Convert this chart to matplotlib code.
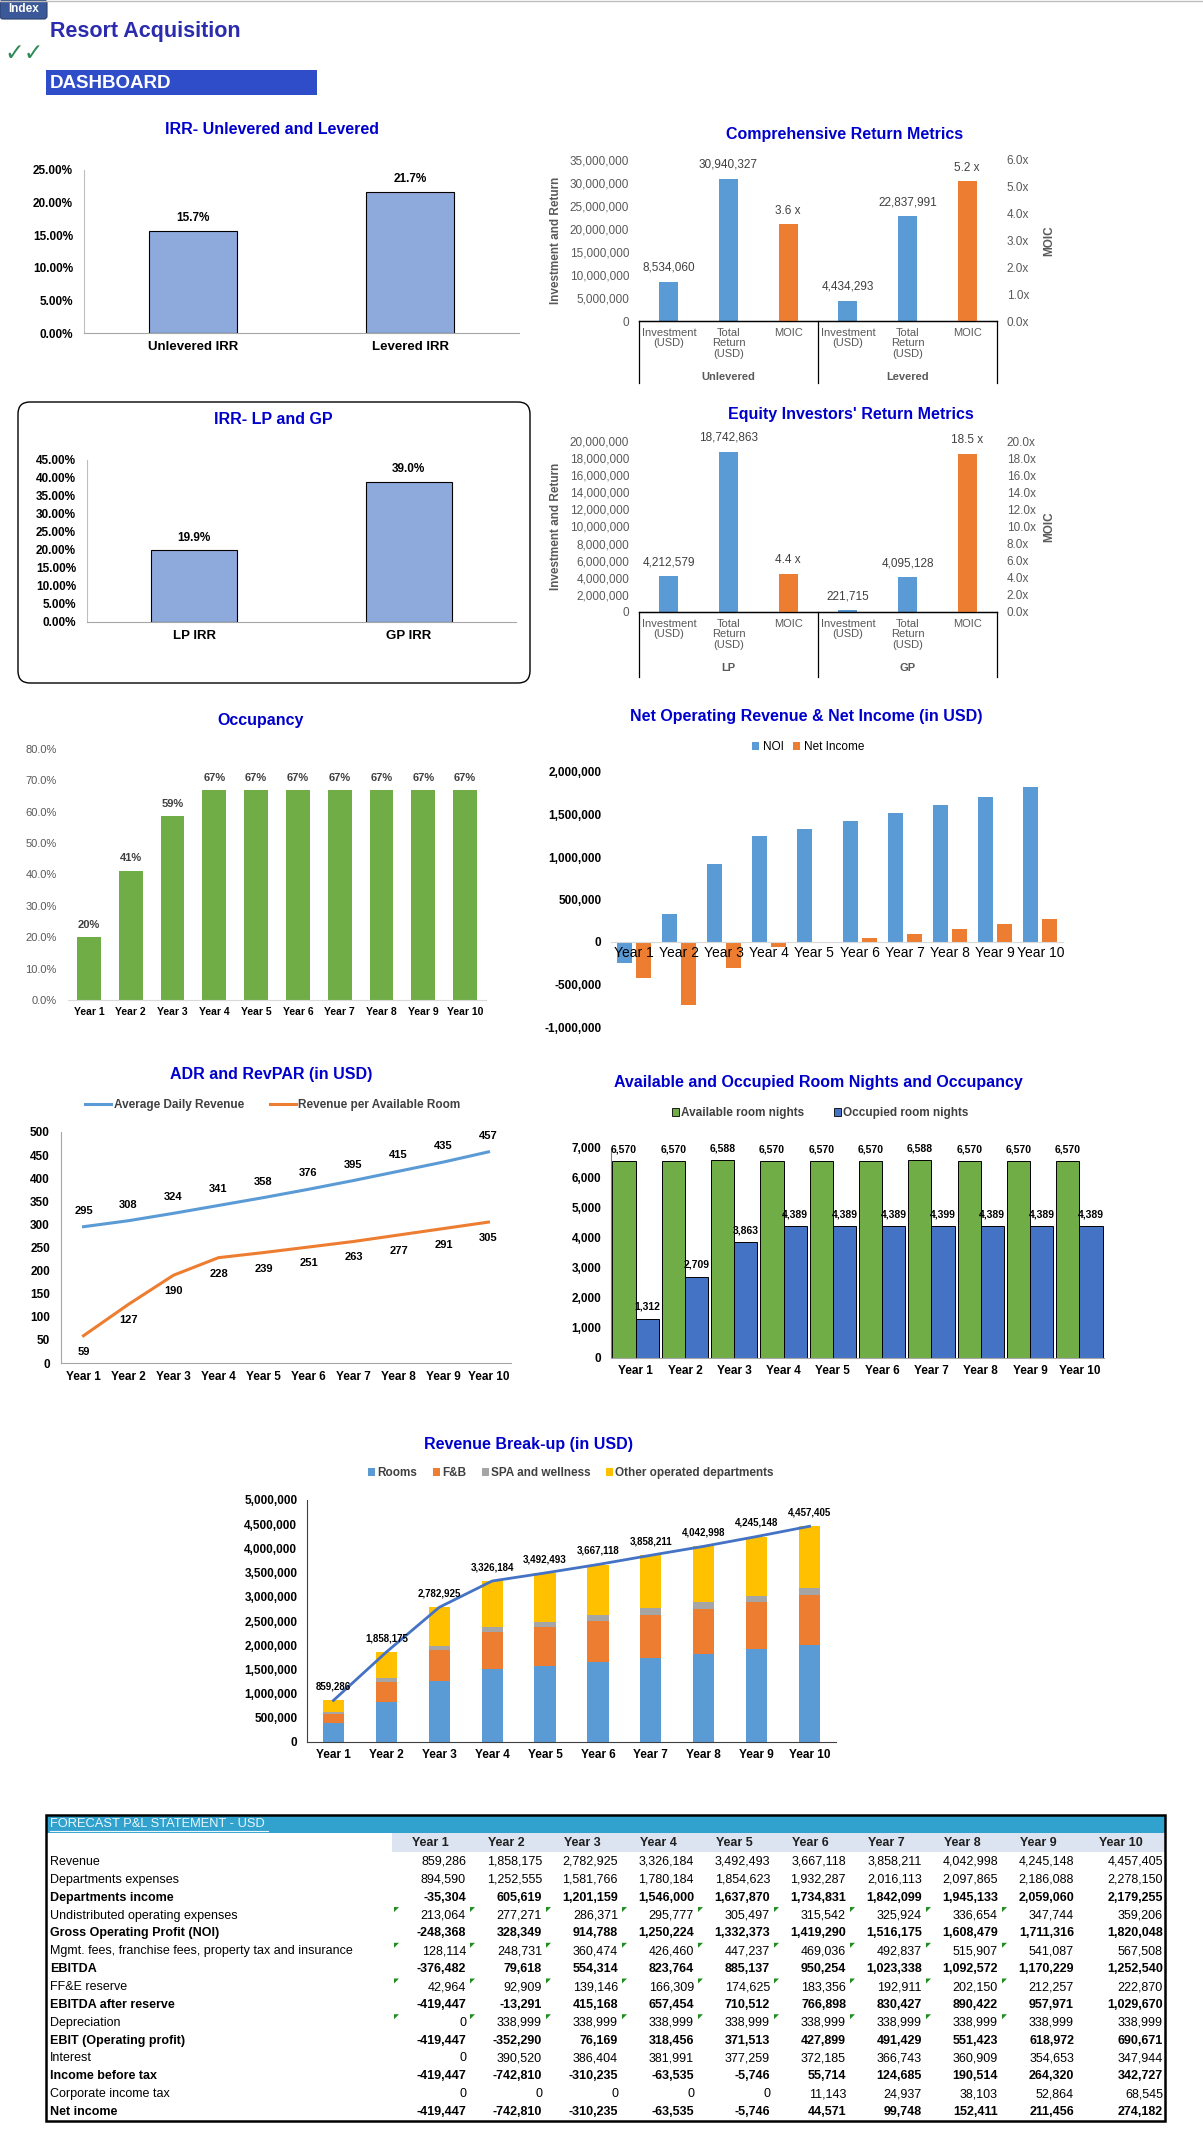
import matplotlib
matplotlib.use("Agg")
import matplotlib.pyplot as plt
from matplotlib.patches import Rectangle, FancyBboxPatch, Polygon, Patch

W, H = 1203, 2153

# ---------------- data ----------------
years = ["Year 1", "Year 2", "Year 3", "Year 4", "Year 5",
         "Year 6", "Year 7", "Year 8", "Year 9", "Year 10"]

irr_labels = ["Unlevered IRR", "Levered IRR"]
irr_values = [15.7, 21.7]
lp_gp_labels = ["LP IRR", "GP IRR"]
lp_gp_values = [19.9, 39.0]

metric_labels = ["Investment\n(USD)", "Total\nReturn\n(USD)", "MOIC"]
comp_groups = ["Unlevered", "Levered"]
comp_usd = [8534060, 30940327, 4434293, 22837991]
comp_moic = [3.6, 5.2]
eq_groups = ["LP", "GP"]
eq_usd = [4212579, 18742863, 221715, 4095128]
eq_moic = [4.4, 18.5]

occupancy = [20.0, 41.2, 58.6, 66.8, 66.8, 66.8, 66.8, 66.8, 66.8, 66.8]
adr = [295, 308, 324, 341, 358, 376, 395, 415, 435, 457]
revpar = [59, 127, 190, 228, 239, 251, 263, 277, 291, 305]
avail_nights = [6570, 6570, 6588, 6570, 6570, 6570, 6588, 6570, 6570, 6570]
occupied_nights = [1312, 2709, 3863, 4389, 4389, 4389, 4399, 4389, 4389, 4389]

rev_rooms = [387600, 834400, 1251700, 1498000, 1570200, 1649100, 1732600, 1819900, 1911900, 2003900]
rev_fb = [198000, 413000, 645000, 771000, 796000, 842000, 890000, 924000, 973000, 1028000]
rev_spa = [35000, 65000, 85000, 100000, 120000, 125000, 140000, 145000, 140000, 150000]
rev_other = [238700, 545800, 801200, 957200, 1006300, 1051000, 1095600, 1154100, 1220200, 1275500]

# P&L statement
revenue = [859286, 1858175, 2782925, 3326184, 3492493, 3667118, 3858211, 4042998, 4245148, 4457405]
dept_expenses = [894590, 1252555, 1581766, 1780184, 1854623, 1932287, 2016113, 2097865, 2186088, 2278150]
dept_income = [-35304, 605619, 1201159, 1546000, 1637870, 1734831, 1842099, 1945133, 2059060, 2179255]
undistributed = [213064, 277271, 286371, 295777, 305497, 315542, 325924, 336654, 347744, 359206]
gop = [-248368, 328349, 914788, 1250224, 1332373, 1419290, 1516175, 1608479, 1711316, 1820048]
mgmt_fees = [128114, 248731, 360474, 426460, 447237, 469036, 492837, 515907, 541087, 567508]
ebitda = [-376482, 79618, 554314, 823764, 885137, 950254, 1023338, 1092572, 1170229, 1252540]
ffe_reserve = [42964, 92909, 139146, 166309, 174625, 183356, 192911, 202150, 212257, 222870]
ebitda_after = [-419447, -13291, 415168, 657454, 710512, 766898, 830427, 890422, 957971, 1029670]
depreciation = [0, 338999, 338999, 338999, 338999, 338999, 338999, 338999, 338999, 338999]
ebit = [-419447, -352290, 76169, 318456, 371513, 427899, 491429, 551423, 618972, 690671]
interest = [0, 390520, 386404, 381991, 377259, 372185, 366743, 360909, 354653, 347944]
income_before_tax = [-419447, -742810, -310235, -63535, -5746, 55714, 124685, 190514, 264320, 342727]
corp_tax = [0, 0, 0, 0, 0, 11143, 24937, 38103, 52864, 68545]
net_income = [-419447, -742810, -310235, -63535, -5746, 44571, 99748, 152411, 211456, 274182]

pl_labels = ["Revenue", "Departments expenses", "Departments income",
             "Undistributed operating expenses", "Gross Operating Profit (NOI)",
             "Mgmt. fees, franchise fees, property tax and insurance", "EBITDA",
             "FF&E reserve", "EBITDA after reserve", "Depreciation",
             "EBIT (Operating profit)", "Interest", "Income before tax",
             "Corporate income tax", "Net income"]
pl_bold = [False, False, True, False, True, False, True, False, True, False,
           True, False, True, False, True]
pl_flag = [False, False, False, True, False, True, False, True, False, True,
           False, False, False, False, False]

# ---------------- style ----------------
plt.rcParams['font.family'] = ['Liberation Sans', 'DejaVu Sans']
TITLE_C = '#0000CC'
GRAY = '#595959'
C_BLUE = '#5B9BD5'
C_ORANGE = '#ED7D31'
C_IRR = '#8EA9DB'


def rect(x0, y0, x1, y1):
    return [x0 / W, 1 - y1 / H, (x1 - x0) / W, (y1 - y0) / H]


def frame(ax, left=None, bottom='#BFBFBF'):
    for s in ('top', 'right'):
        ax.spines[s].set_visible(False)
    if left:
        ax.spines['left'].set_color(left)
        ax.spines['left'].set_linewidth(0.8)
    else:
        ax.spines['left'].set_visible(False)
    ax.spines['bottom'].set_color(bottom)
    ax.spines['bottom'].set_linewidth(0.8)
    ax.tick_params(length=0)


def money(v):
    return f"{v:,.0f}"


fig = plt.figure(figsize=(W / 100, H / 100), dpi=100)
ov = fig.add_axes([0, 0, 1, 1], zorder=-5)
ov.set_xlim(0, W)
ov.set_ylim(H, 0)
ov.axis('off')


def title(x, y, s):
    ov.text(x, y, s, ha='center', va='center', fontsize=11.5,
            fontweight='bold', color=TITLE_C)


# header
ov.plot([0, W], [0.5, 0.5], color='#BDBDBD', lw=1)
ov.add_patch(FancyBboxPatch((0, 0), 47, 19, boxstyle='round,pad=0,rounding_size=3',
                            facecolor='#3B5998', edgecolor='#2A4070', lw=0.8))
ov.text(23.5, 9.5, "Index", ha='center', va='center', color='white',
        fontsize=8.5, fontweight='bold')
ov.text(50, 32, "Resort Acquisition", ha='left', va='center', fontsize=15.5,
        fontweight='bold', color='#2B2BAE')
ov.text(4, 53, "\u2713\u2713", ha='left', va='center', fontsize=17,
        color='#2E8B57', family='DejaVu Sans', fontweight='bold')
ov.add_patch(Rectangle((46, 70), 271, 25, facecolor='#2F4DC8', edgecolor='none'))
ov.text(50, 83, "DASHBOARD", ha='left', va='center', fontsize=13.5,
        fontweight='bold', color='white')

# ---------------- IRR unlevered / levered ----------------
title(272, 129, "IRR- Unlevered and Levered")
ax = fig.add_axes(rect(84, 170, 519, 333))
bars = ax.bar(irr_labels, irr_values, width=0.405, color=C_IRR,
              edgecolor='black', linewidth=0.8)
ax.set_xlim(-0.5, 1.5)
ax.set_ylim(0, 25)
yt = [0, 5, 10, 15, 20, 25]
ax.set_yticks(yt, [f"{t:.2f}%" for t in yt], fontweight='bold', fontsize=8.5)
ax.set_xticks([0, 1], irr_labels, fontweight='bold', fontsize=9.5)
frame(ax, left='#BFBFBF', bottom='#A6A6A6')
ax.tick_params(axis='y', pad=8)
ax.tick_params(axis='x', pad=6)
for b, v in zip(bars, irr_values):
    ax.annotate(f"{v:.1f}%", (b.get_x() + b.get_width() / 2, v), xytext=(0, 9),
                textcoords='offset points', ha='center', va='center',
                fontsize=8.5, fontweight='bold')


# ---------------- return metric charts ----------------
def metric_chart(box, usd, moic, groups, ymax, ystep, rmax, rstep, gy, gbottom):
    ax = fig.add_axes(rect(*box))
    pos_usd = [0, 1, 3, 4]
    pos_moic = [2, 5]
    b1 = ax.bar(pos_usd, usd, width=0.32, color=C_BLUE)
    ax.set_xlim(-0.5, 5.5)
    ax.set_ylim(0, ymax)
    yt = list(range(0, ymax + 1, ystep))
    ax.set_yticks(yt, [money(t) for t in yt], fontsize=8.5, color=GRAY)
    ax.set_xticks(range(6), metric_labels * 2, fontsize=8, color=GRAY,
                  linespacing=1.05)
    ax.set_ylabel("Investment and Return", fontsize=8.5, fontweight='bold', color=GRAY)
    ax.yaxis.set_label_coords(-0.215, 0.5)
    ax2 = ax.twinx()
    b2 = ax2.bar(pos_moic, moic, width=0.32, color=C_ORANGE)
    ax2.set_ylim(0, rmax)
    rt = list(range(0, rmax + 1, rstep))
    ax2.set_yticks(rt, [f"{t:.1f}x" for t in rt], fontsize=8.5, color=GRAY)
    ax2.set_ylabel("MOIC", fontsize=8.5, fontweight='bold', color=GRAY)
    ax2.yaxis.set_label_coords(1.13, 0.5)
    for a in (ax, ax2):
        for s in ('top', 'right', 'left'):
            a.spines[s].set_visible(False)
        a.spines['bottom'].set_color('black')
        a.spines['bottom'].set_linewidth(0.9)
        a.tick_params(length=0, pad=7)
    ax.tick_params(axis='x', pad=5)
    for b, v in zip(b1, usd):
        ax.annotate(money(v), (b.get_x() + b.get_width() / 2, v), xytext=(0, 10),
                    textcoords='offset points', ha='center', va='center',
                    fontsize=8.5, color='#404040')
    for b, v in zip(b2, moic):
        ax2.annotate(f"{v:.1f} x", (b.get_x() + b.get_width() / 2, v), xytext=(0, 10),
                     textcoords='offset points', ha='center', va='center',
                     fontsize=8.5, color='#404040')
    tr = ax.get_xaxis_transform()
    for xv in (-0.5, 2.5, 5.5):
        ax.plot([xv, xv], [0, gbottom], transform=tr, color='black', lw=0.9,
                clip_on=False)
    for xc, g in zip((1, 4), groups):
        ax.text(xc, gy, g, transform=tr, ha='center', va='center', fontsize=8,
                fontweight='bold', color=GRAY)


title(845, 134, "Comprehensive Return Metrics")
metric_chart((639, 160, 997, 321), comp_usd, comp_moic, comp_groups,
             35000000, 5000000, 6, 1, -0.348, -0.385)

title(851, 415, "Equity Investors' Return Metrics")
metric_chart((639, 441, 997, 612), eq_usd, eq_moic, eq_groups,
             20000000, 2000000, 20, 2, -0.327, -0.38)

# ---------------- IRR LP / GP ----------------
ov.add_patch(FancyBboxPatch((18, 402), 512, 281, boxstyle='round,pad=0,rounding_size=12',
                            facecolor='none', edgecolor='black', lw=1.0))
title(273, 420, "IRR- LP and GP")
ax = fig.add_axes(rect(87, 460, 516, 622))
bars = ax.bar(lp_gp_labels, lp_gp_values, width=0.4, color=C_IRR,
              edgecolor='black', linewidth=0.8)
ax.set_xlim(-0.5, 1.5)
ax.set_ylim(0, 45)
yt = list(range(0, 46, 5))
ax.set_yticks(yt, [f"{t:.2f}%" for t in yt], fontweight='bold', fontsize=8.5)
ax.set_xticks([0, 1], lp_gp_labels, fontweight='bold', fontsize=9.5)
frame(ax, left='#BFBFBF', bottom='#A6A6A6')
ax.tick_params(axis='y', pad=8)
ax.tick_params(axis='x', pad=6)
for b, v in zip(bars, lp_gp_values):
    ax.annotate(f"{v:.1f}%", (b.get_x() + b.get_width() / 2, v), xytext=(0, 9),
                textcoords='offset points', ha='center', va='center',
                fontsize=8.5, fontweight='bold')

# ---------------- Occupancy ----------------
title(261, 720, "Occupancy")
ax = fig.add_axes(rect(68, 749, 486, 1000))
bars = ax.bar(years, occupancy, width=0.57, color='#70AD47')
ax.set_xlim(-0.5, 9.5)
ax.set_ylim(0, 80)
yt = list(range(0, 81, 10))
ax.set_yticks(yt, [f"{t:.1f}%" for t in yt], fontsize=8, color=GRAY)
ax.set_xticks(range(10), years, fontweight='bold', fontsize=7.5)
frame(ax, bottom='#D9D9D9')
ax.tick_params(axis='y', pad=8)
ax.tick_params(axis='x', pad=5)
for b, v in zip(bars, occupancy):
    ax.annotate(f"{v:.0f}%", (b.get_x() + b.get_width() / 2, v), xytext=(0, 9),
                textcoords='offset points', ha='center', va='center',
                fontsize=8, fontweight='bold', color='#404040')

# ---------------- NOI & Net income ----------------
title(806, 716, "Net Operating Revenue & Net Income (in USD)")
ax = fig.add_axes(rect(611, 772, 1063, 1027))
xs = list(range(10))
ax.bar([x - 0.21 for x in xs], gop, width=0.33, color=C_BLUE, label="NOI")
ax.bar([x + 0.21 for x in xs], net_income, width=0.33, color=C_ORANGE, label="Net Income")
ax.set_xlim(-0.5, 9.5)
ax.set_ylim(-1000000, 2000000)
yt = list(range(-1000000, 2000001, 500000))
ax.set_yticks(yt, [money(t) for t in yt], fontweight='bold', fontsize=8.5)
ax.set_xticks(xs, years, fontweight='bold', fontsize=8.5)
frame(ax, bottom='#D9D9D9')
ax.spines['bottom'].set_position(('data', 0))
ax.tick_params(axis='y', pad=7)
ax.tick_params(axis='x', pad=3)
ax.legend(loc='center', bbox_to_anchor=(808 / W, 1 - 747 / H),
          bbox_transform=fig.transFigure, ncol=2, frameon=False, fontsize=8.5,
          handlelength=0.6, handleheight=0.6, handletextpad=0.3, columnspacing=0.8)

# ---------------- ADR and RevPAR ----------------
title(271, 1075, "ADR and RevPAR (in USD)")
ax = fig.add_axes(rect(61, 1132, 511, 1363))
ax.plot(xs, adr, color=C_BLUE, lw=2.2, label="Average Daily Revenue")
ax.plot(xs, revpar, color=C_ORANGE, lw=2.2, label="Revenue per Available Room")
ax.set_xlim(-0.5, 9.5)
ax.set_ylim(0, 500)
yt = list(range(0, 501, 50))
ax.set_yticks(yt, [str(t) for t in yt], fontweight='bold', fontsize=8.5)
ax.set_xticks(xs, years, fontweight='bold', fontsize=8.5)
frame(ax, left='#A6A6A6', bottom='#A6A6A6')
ax.tick_params(axis='y', pad=8)
ax.tick_params(axis='x', pad=6)
for x, v in zip(xs, adr):
    ax.annotate(str(v), (x, v), xytext=(0, 11.5), textcoords='offset points',
                ha='center', va='center', fontsize=8, fontweight='bold')
for x, v in zip(xs, revpar):
    ax.annotate(str(v), (x, v), xytext=(0, -11.5), textcoords='offset points',
                ha='center', va='center', fontsize=8, fontweight='bold')
ax.legend(loc='center', bbox_to_anchor=(273 / W, 1 - 1105 / H),
          bbox_transform=fig.transFigure, ncol=2, frameon=False,
          prop={'size': 8.5, 'weight': 'bold'}, handlelength=2.2,
          handletextpad=0.2, columnspacing=2.2, labelcolor='#404040')

# ---------------- Room nights ----------------
title(818, 1083, "Available and Occupied Room Nights and Occupancy")
ax = fig.add_axes(rect(611, 1148, 1104, 1358))
ba = ax.bar([x - 0.235 for x in xs], avail_nights, width=0.47, color='#70AD47',
            edgecolor='black', linewidth=0.7, label="Available room nights")
bo = ax.bar([x + 0.235 for x in xs], occupied_nights, width=0.47, color='#4472C4',
            edgecolor='black', linewidth=0.7, label="Occupied room nights")
ax.set_xlim(-0.5, 9.5)
ax.set_ylim(0, 7000)
yt = list(range(0, 7001, 1000))
ax.set_yticks(yt, [money(t) for t in yt], fontweight='bold', fontsize=8.5)
ax.set_xticks(xs, years, fontweight='bold', fontsize=8.5)
frame(ax, left='#808080', bottom='#A6A6A6')
ax.tick_params(axis='y', pad=7)
ax.tick_params(axis='x', pad=5)
for grp in (ba, bo):
    for b in grp:
        v = b.get_height()
        ax.annotate(money(v), (b.get_x() + b.get_width() / 2, v), xytext=(0, 8.5),
                    textcoords='offset points', ha='center', va='center',
                    fontsize=7.5, fontweight='bold')
ax.legend(handles=[Patch(facecolor='#70AD47', edgecolor='black', lw=0.6,
                         label="Available room nights"),
                   Patch(facecolor='#4472C4', edgecolor='black', lw=0.6,
                         label="Occupied room nights")],
          loc='center', bbox_to_anchor=(820 / W, 1 - 1113 / H),
          bbox_transform=fig.transFigure, ncol=2, frameon=False,
          prop={'size': 8.5, 'weight': 'bold'}, labelcolor='#404040',
          handlelength=0.6, handleheight=0.6, handletextpad=0.2, columnspacing=2.5)

# ---------------- Revenue break-up ----------------
title(528, 1444, "Revenue Break-up (in USD)")
ax = fig.add_axes(rect(307, 1500, 836, 1742))
bottom = [0] * 10
for vals, col, lab in ((rev_rooms, C_BLUE, "Rooms"), (rev_fb, C_ORANGE, "F&B"),
                       (rev_spa, '#A5A5A5', "SPA and wellness"),
                       (rev_other, '#FFC000', "Other operated departments")):
    ax.bar(xs, vals, width=0.4, bottom=bottom, color=col, label=lab)
    bottom = [a + b for a, b in zip(bottom, vals)]
ax.plot(xs, revenue, color='#4472C4', lw=2)
for x, v in zip(xs, revenue):
    ax.annotate(money(v), (x, v), xytext=(0, 10), textcoords='offset points',
                ha='center', va='center', fontsize=7, fontweight='bold')
ax.set_xlim(-0.5, 9.5)
ax.set_ylim(0, 5000000)
yt = list(range(0, 5000001, 500000))
ax.set_yticks(yt, [money(t) for t in yt], fontweight='bold', fontsize=8.5)
ax.set_xticks(xs, years, fontweight='bold', fontsize=8.5)
frame(ax, left='#404040', bottom='#404040')
ax.tick_params(axis='y', pad=7)
ax.tick_params(axis='x', pad=5)
ax.legend(loc='center', bbox_to_anchor=(571 / W, 1 - 1473 / H),
          bbox_transform=fig.transFigure, ncol=4, frameon=False,
          prop={'size': 8.5, 'weight': 'bold'}, labelcolor='#404040',
          handlelength=0.6, handleheight=0.6, handletextpad=0.2, columnspacing=1.3)

# ---------------- P&L table ----------------
pl_rows = [revenue, dept_expenses, dept_income, undistributed, gop, mgmt_fees,
           ebitda, ffe_reserve, ebitda_after, depreciation, ebit, interest,
           income_before_tax, corp_tax, net_income]
t_left, t_right, t_top, t_bottom = 46, 1165, 1815, 2121
col_edges = [392, 468, 544, 620, 696, 772, 848, 924, 1000, 1076, 1165]
ov.add_patch(Rectangle((t_left, t_top), t_right - t_left, 18, facecolor='#31A2CE',
                       edgecolor='none'))
hdr = ov.text(50, 1824, "FORECAST P&L STATEMENT - USD", ha='left', va='center',
              fontsize=9.3, color='#EAF6FB')
ov.plot([50, 268], [1831, 1831], color='#EAF6FB', lw=0.8)
ov.add_patch(Rectangle((col_edges[0], 1833), t_right - col_edges[0], 19,
                       facecolor='#DCE3F1', edgecolor='none'))
for i, y in enumerate(years):
    ov.text((col_edges[i] + col_edges[i + 1]) / 2, 1842.5, y, ha='center',
            va='center', fontsize=9, fontweight='bold', color='#1F1F1F')
row_y0, row_step = 1862, 17.86
for r, (lab, vals) in enumerate(zip(pl_labels, pl_rows)):
    yc = row_y0 + r * row_step
    w = 'bold' if pl_bold[r] else 'normal'
    ov.text(50, yc, lab, ha='left', va='center', fontsize=9, fontweight=w, color='black')
    for i, v in enumerate(vals):
        ov.text(col_edges[i + 1] - 2, yc, money(v), ha='right', va='center',
                fontsize=9, fontweight=w, color='black')
        if pl_flag[r] and i < 9:
            xl, yt0 = col_edges[i] + 2, yc - 8.5
            ov.add_patch(Polygon([(xl, yt0), (xl + 5, yt0), (xl, yt0 + 5)],
                                 closed=True, facecolor='#1E8C1E', edgecolor='none'))
ov.add_patch(Rectangle((t_left, t_top), t_right - t_left, t_bottom - t_top,
                       facecolor='none', edgecolor='black', lw=1.8))

fig.savefig("out.png", dpi=100)
